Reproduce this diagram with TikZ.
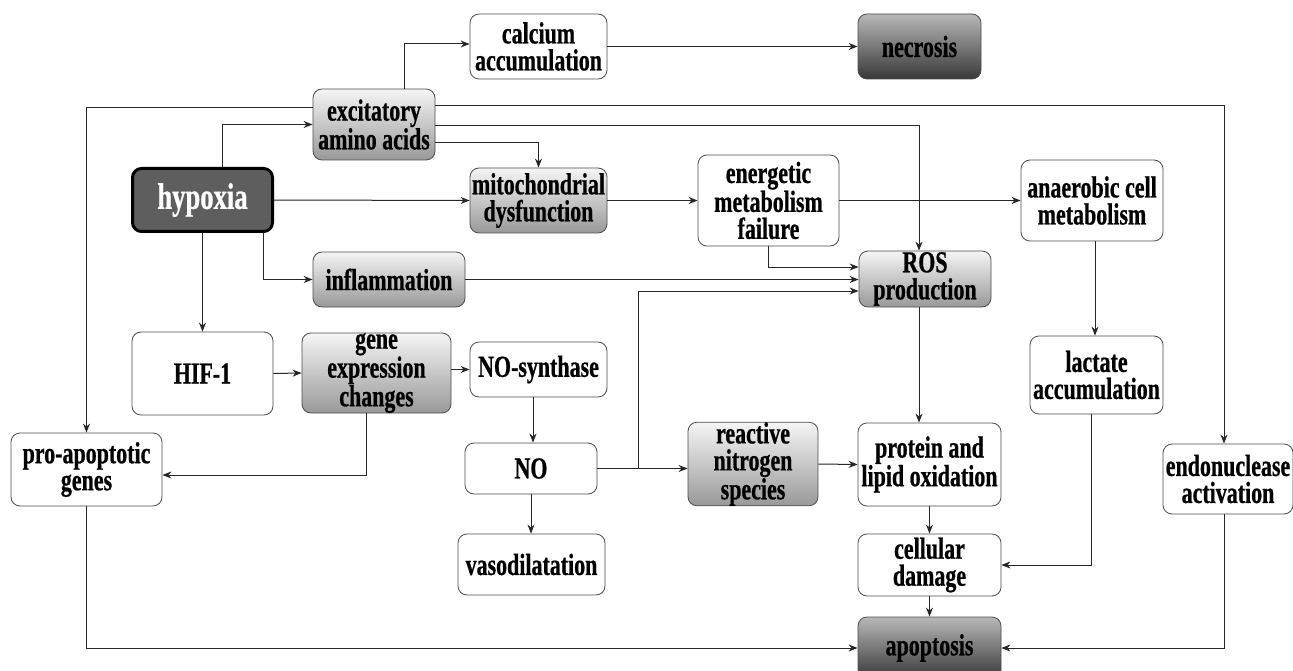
\documentclass[tikz,border=0pt]{standalone}
\usepackage{fontspec}
\setmainfont{Liberation Serif}[FakeStretch=0.72, BoldFeatures={FakeBold=0.7}]
\usetikzlibrary{arrows.meta,positioning}

\tikzset{
	box/.style={draw=black!70, line width=0.8pt, rounded corners=9pt, align=center,
		inner sep=0pt, font=\fontsize{30.5}{27}\selectfont\bfseries},
	plain/.style={box, fill=white},
	grey/.style={box, top color=black!4, bottom color=black!40},
	dark/.style={box, top color=black!28, bottom color=black!78},
	arr/.style={-{Stealth[length=9pt,width=7pt]}, line width=1pt, draw=black!85}
}

\begin{document}
\begin{tikzpicture}[x=1pt,y=-1pt]
		\useasboundingbox (0,0) rectangle (1293,671);
		% top row
		\node[plain, minimum width=137, minimum height=65] (calc) at (538.5,46.5) {calcium\\accumulation};
		\node[dark, minimum width=123, minimum height=65] (necro) at (919.5,46.5) {necrosis};
		\node[grey, minimum width=122, minimum height=71] (exc) at (374,124.5) {excitatory\\amino acids};
		% hypoxia row
		\node[draw=black, line width=3pt, rounded corners=9pt, fill=black!63, text=white,
			font=\fontsize{37}{30}\selectfont\bfseries, minimum width=140, minimum height=63] (hyp) at (202.5,200) {hypoxia};
		\node[grey, minimum width=137, minimum height=65] (mito) at (538.5,200.5) {mitochondrial\\dysfunction};
		\node[plain, minimum width=141, minimum height=91] (energ) at (768.5,200.5) {energetic\\metabolism\\failure};
		\node[plain, minimum width=142, minimum height=81] (anaer) at (1092,200.5) {anaerobic cell\\metabolism};
		\node[grey, minimum width=152, minimum height=55] (infl) at (389,279.5) {inflammation};
		\node[grey, minimum width=132, minimum height=56] (ros) at (925,279) {ROS\\production};
		% middle row
		\node[plain, minimum width=141, minimum height=83] (hif) at (202.5,373.5) {HIF-1};
		\node[grey, minimum width=149, minimum height=80] (gene) at (376.5,373) {gene\\expression\\changes};
		\node[plain, minimum width=137, minimum height=55] (nos) at (538.5,369.5) {NO-synthase};
		\node[plain, minimum width=133, minimum height=78] (lact) at (1096.5,375) {lactate\\accumulation};
		% lower rows
		\node[plain, minimum width=151, minimum height=73] (proap) at (86.5,469.5) {pro-apoptotic\\genes};
		\node[plain, minimum width=132, minimum height=51] (no) at (531,468.5) {NO};
		\node[grey, minimum width=130, minimum height=82] (rns) at (753,464) {reactive\\nitrogen\\species};
		\node[plain, minimum width=143, minimum height=83] (prot) at (929.5,464.5) {protein and\\lipid oxidation};
		\node[plain, minimum width=130, minimum height=70] (endo) at (1228,479) {endonuclease\\activation};
		\node[plain, minimum width=147, minimum height=61] (vaso) at (531.5,564.5) {vasodilatation};
		\node[plain, minimum width=143, minimum height=62] (cell) at (929.5,565) {cellular\\damage};
		\node[dark, minimum width=143, minimum height=62] (apop) at (929.5,648) {apoptosis};
		\coordinate (nojoin) at (638,469);

		% connectors
		\draw[arr] ([xshift=19.5pt]hyp.north) |- (exc.west);
		\draw[arr] ([yshift=16.5pt]exc.west) -| (proap.north);
		\draw[arr] ([xshift=30pt]exc.north) |- ([yshift=2.5pt]calc.west);
		\draw[arr] (calc.east) -- (calc.east -| necro.west);
		\draw[arr] ([yshift=18.5pt]exc.east) -| ([xshift=-4pt]endo.north);
		\draw[arr] ([yshift=-1.5pt]exc.east) -| ([xshift=-6pt]ros.north);
		\draw[arr] ([yshift=-18.5pt]exc.east) -| (mito.north);
		\draw[arr] (hyp.east) -- (mito.west);
		\draw[arr] ([xshift=60.5pt]hyp.south) |- (infl.west);
		\draw[arr] (hyp.south) -- (hif.north);
		\draw[arr] (mito.east) -- (energ.west);
		\draw[arr] (energ.east) -- (anaer.west);
		\draw[arr] (energ.south) |- ([yshift=12pt]ros.west);
		\draw[arr] (infl.east) -- (infl.east -| ros.west);
		\draw[arr] (no.east) -- (no.east -| rns.west);
		\draw[arr] (nojoin) |- ([yshift=-12pt]ros.west);
		\draw[arr] (hif.east) -- (gene.west);
		\draw[arr] (gene.east |- nos.west) -- (nos.west);
		\draw[arr] ([xshift=-10.5pt]gene.south) |- ([yshift=-5.5pt]proap.east);
		\draw[arr] ([xshift=-5.5pt]nos.south) -- ([xshift=-5.5pt]nos.south |- no.north);
		\draw[arr] (no.south) -- (no.south |- vaso.north);
		\draw[arr] (rns.east) -- (prot.west);
		\draw[arr] ([xshift=-6pt]ros.south) -- ([xshift=-6pt]ros.south |- prot.north);
		\draw[arr] ([xshift=3pt]anaer.south) -- ([xshift=3pt]anaer.south |- lact.north);
		\draw[arr] (prot.south) -- (cell.north);
		\draw[arr] ([xshift=-5.5pt]lact.south) |- (cell.east);
		\draw[arr] (cell.south) -- (apop.north);
		\draw[arr] (proap.south) |- (apop.west);
		\draw[arr] ([xshift=-4pt]endo.south) |- (apop.east);
	\end{tikzpicture}
\end{document}
